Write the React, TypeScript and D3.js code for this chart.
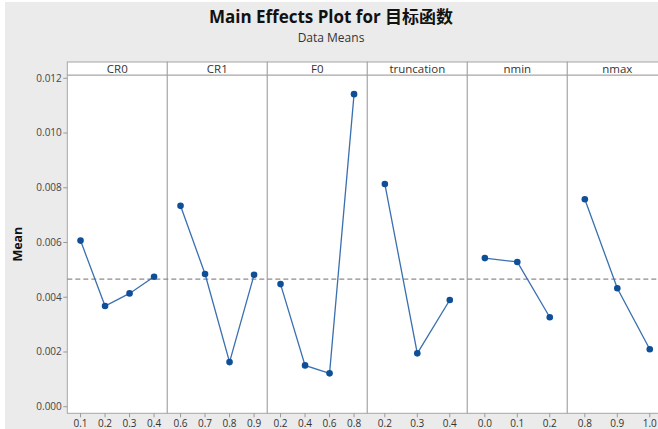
import React, { useEffect, useRef } from "react";
import * as d3 from "d3";

const factors = ["CR0", "CR1", "F0", "truncation", "nmin", "nmax"];
const levelsCR0 = ["0.1", "0.2", "0.3", "0.4"];
const levelsCR1 = ["0.6", "0.7", "0.8", "0.9"];
const levelsF0 = ["0.2", "0.4", "0.6", "0.8"];
const levelsTrunc = ["0.2", "0.3", "0.4"];
const levelsNmin = ["0.0", "0.1", "0.2"];
const levelsNmax = ["0.8", "0.9", "1.0"];

const meansCR0 = [0.00607, 0.00368, 0.00414, 0.00475];
const meansCR1 = [0.00734, 0.00485, 0.00163, 0.00482];
const meansF0 = [0.00448, 0.00151, 0.00122, 0.01142];
const meansTrunc = [0.00814, 0.00195, 0.0039];
const meansNmin = [0.00543, 0.00529, 0.00327];
const meansNmax = [0.00758, 0.00433, 0.0021];

const grandMean = 0.00466;
const yTicks = [0, 0.002, 0.004, 0.006, 0.008, 0.01, 0.012];

const title = "Main Effects Plot for 目标函数";
const subtitle = "Data Means";
const yLabel = "Mean";

const W = 658;
const H = 429;

export default function App() {
  const ref = useRef<SVGSVGElement | null>(null);

  useEffect(() => {
    document.body.style.margin = "0";
    document.body.style.overflow = "hidden";
    const svg = d3.select(ref.current);
    svg.selectAll("*").remove();

    const levels = [levelsCR0, levelsCR1, levelsF0, levelsTrunc, levelsNmin, levelsNmax];
    const means = [meansCR0, meansCR1, meansF0, meansTrunc, meansNmin, meansNmax];

    const font = "'Open Sans', 'Noto Sans', 'Noto Sans CJK SC', sans-serif";
    const left = 67.3;
    const panelW = 100;
    const top = 75;
    const bottom = 413.3;
    const stripTop = 62;

    // background
    svg.append("rect").attr("x", 0).attr("y", 0).attr("width", W).attr("height", H).attr("fill", "#ffffff");
    svg.append("rect").attr("x", 5).attr("y", 2).attr("width", W - 5).attr("height", H - 2).attr("fill", "#ebebeb");

    const xPanel = d3.scaleBand<string>().domain(factors).range([left, left + panelW * factors.length]).paddingInner(0).paddingOuter(0);
    const y = d3.scaleLinear().domain([-0.00024, 0.01212]).range([bottom, top]);

    // title
    svg.append("text")
      .attr("x", 331).attr("y", 23)
      .attr("text-anchor", "middle")
      .attr("font-family", font)
      .attr("font-weight", "bold")
      .attr("font-size", 17)
      .attr("fill", "#111")
      .text(title);
    svg.append("text")
      .attr("x", 331).attr("y", 42)
      .attr("text-anchor", "middle")
      .attr("font-family", font)
      .attr("font-size", 12)
      .attr("fill", "#333")
      .text(subtitle);

    // panels
    factors.forEach((f) => {
      const x0 = xPanel(f)!;
      const bw = xPanel.bandwidth();
      svg.append("rect").attr("x", x0).attr("y", top).attr("width", bw).attr("height", bottom - top)
        .attr("fill", "#ffffff").attr("stroke", "#a6a6a6").attr("stroke-width", 1);
      svg.append("rect").attr("x", x0).attr("y", stripTop).attr("width", bw).attr("height", top - stripTop)
        .attr("fill", "#ffffff").attr("stroke", "#a6a6a6").attr("stroke-width", 1);
      svg.append("text")
        .attr("x", x0 + bw / 2).attr("y", stripTop + 10.5)
        .attr("text-anchor", "middle")
        .attr("font-family", font)
        .attr("font-size", 11.5)
        .attr("fill", "#333")
        .text(f);
    });

    // grand mean reference line
    svg.append("line")
      .attr("x1", left).attr("x2", W)
      .attr("y1", y(grandMean)).attr("y2", y(grandMean))
      .attr("stroke", "#8c8c8c").attr("stroke-width", 1.2)
      .attr("stroke-dasharray", "5,3");

    factors.forEach((f, i) => {
      const x0 = xPanel(f)!;
      const bw = xPanel.bandwidth();
      const xs = d3.scalePoint<string>().domain(levels[i]).range([x0, x0 + bw]).padding(0.54);
      const pts: [number, number][] = levels[i].map((l, j) => [xs(l)!, y(means[i][j])]);
      const line = d3.line();
      svg.append("path").attr("d", line(pts)!).attr("fill", "none")
        .attr("stroke", "#3a6fb0").attr("stroke-width", 1.3);
      svg.selectAll(null).data(pts).enter().append("circle")
        .attr("cx", (d) => d[0]).attr("cy", (d) => d[1]).attr("r", 3.3)
        .attr("fill", "#0e4f98");

      // x ticks
      const gx = svg.append("g").attr("transform", `translate(0,${bottom})`);
      levels[i].forEach((l) => {
        gx.append("line").attr("x1", xs(l)!).attr("x2", xs(l)!).attr("y1", 0).attr("y2", 4)
          .attr("stroke", "#999");
        gx.append("text").attr("x", xs(l)!).attr("y", 13.5)
          .attr("text-anchor", "middle")
          .attr("font-family", font).attr("font-size", 10).attr("fill", "#333")
          .text(l);
      });
    });

    // y axis
    const gy = svg.append("g");
    yTicks.forEach((t) => {
      gy.append("line").attr("x1", left - 4).attr("x2", left).attr("y1", y(t)).attr("y2", y(t)).attr("stroke", "#999");
      gy.append("text").attr("x", left - 5.5).attr("y", y(t) + 3.4)
        .attr("text-anchor", "end")
        .attr("font-family", font).attr("font-size", 10).attr("fill", "#444")
        .text(d3.format(".3f")(t));
    });
    svg.append("text")
      .attr("transform", `translate(22,${(top + bottom) / 2}) rotate(-90)`)
      .attr("text-anchor", "middle")
      .attr("font-family", font)
      .attr("font-weight", "bold")
      .attr("font-size", 12.5)
      .attr("fill", "#111")
      .text(yLabel);
  }, []);

  return (
    <svg ref={ref} width={W} height={H} style={{ position: "absolute", left: 0, top: 0, display: "block" }} />
  );
}
